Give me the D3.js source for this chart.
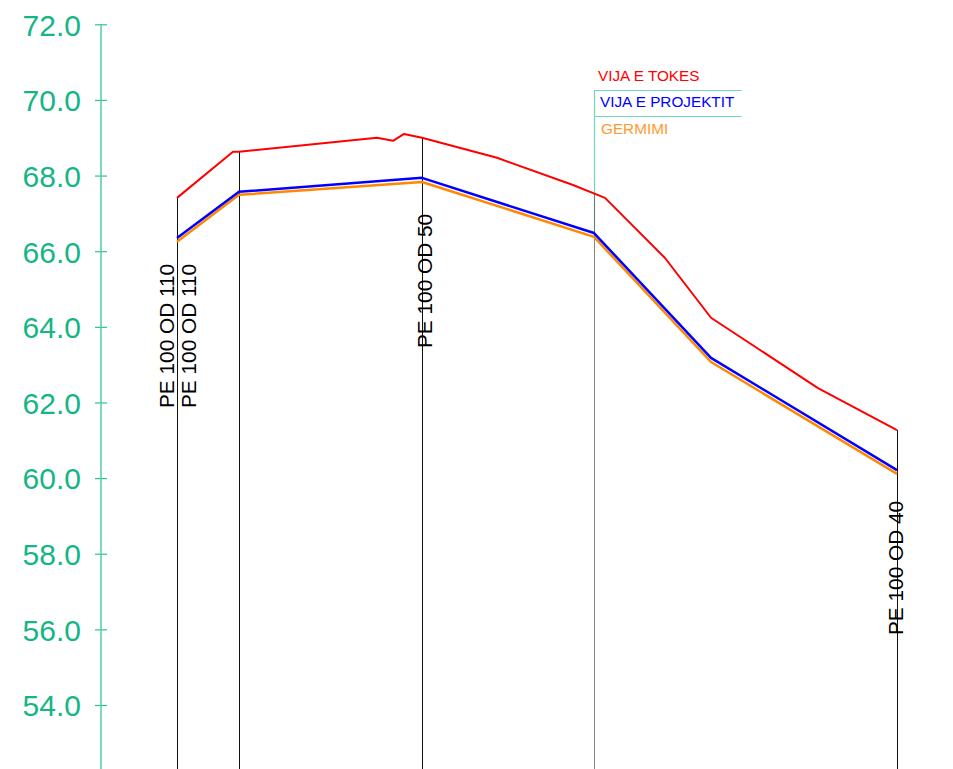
<!DOCTYPE html>
<html>
<head>
<meta charset="utf-8">
<script src="https://cdn.jsdelivr.net/npm/d3@7/dist/d3.min.js"></script>
<style>
  html, body { margin: 0; padding: 0; background: #fff; }
  svg { display: block; }
  text { font-family: "Liberation Sans", Arial, sans-serif; }
</style>
</head>
<body>
<svg id="chart" width="953" height="769"></svg>
<script>
// ---- Data ----
const yTicks = [54, 56, 58, 60, 62, 64, 66, 68, 70, 72];

// Ground line (VIJA E TOKES)
const groundChainage = [0, 14, 15.5, 50, 54, 56.75, 61.25, 80, 99, 107, 122, 133.5, 160.25, 180];
const groundElev     = [67.41, 68.63, 68.63, 69.00, 68.92, 69.10, 69.00, 68.47, 67.75, 67.41, 65.82, 64.24, 62.38, 61.27];

// Project line (VIJA E PROJEKTIT) and trench (GERMIMI)
const profileChainage = [0, 15.5, 61.25, 104.25, 133.5, 180];
const projectElev     = [66.35, 67.57, 67.94, 66.48, 63.18, 60.21];
const trenchElev      = [66.25, 67.49, 67.83, 66.38, 63.07, 60.11];

// Station verticals
const stationChainage = [0, 15.5, 61.25, 104.25, 180];

// Pipe labels
const pipeLabelChainage = [0, 0, 61.25, 180];
const pipeLabelText = ["PE 100 OD 110", "PE 100 OD 110", "PE 100 OD 50", "PE 100 OD 40"];

// Legend
const legendText = ["VIJA E TOKES", "VIJA E PROJEKTIT", "GERMIMI"];
const legendColor = ["#ff0000", "#0000ff", "#ff9a2e"];
const legendChainage = 104.25;

// ---- Scales ----
const W = 953, H = 769;
const x = d3.scaleLinear().domain([0, 180]).range([177, 897]);
const y = d3.scaleLinear().domain([54, 72]).range([705, 24.3]);
const xc = d => Math.round(x(d)) + 0.5;

const svg = d3.select("#chart");

// ---- Y axis ----
const axisColor = "#4fcca6";
const axis = d3.axisLeft(y)
  .tickValues(yTicks)
  .tickFormat(d3.format(".1f"))
  .tickSize(6)
  .tickPadding(14);
const gA = svg.append("g").attr("transform", "translate(101,0)").call(axis);
gA.select(".domain").remove();
gA.append("line")
  .attr("x1", 0).attr("x2", 0)
  .attr("y1", y(72)).attr("y2", H)
  .attr("stroke", axisColor).attr("stroke-width", 1.5);
gA.selectAll(".tick line")
  .attr("x1", -6).attr("x2", 6)
  .attr("stroke", "#2fbf93").attr("stroke-width", 1.2);
gA.selectAll(".tick text")
  .attr("fill", "#16b586")
  .attr("font-size", 30)
  .attr("dy", "0.36em")
  .style("font-family", "'Liberation Sans', Arial, sans-serif");

// ---- Helpers ----
const groundAt = c => {
  for (let i = 0; i < groundChainage.length - 1; i++) {
    if (c >= groundChainage[i] && c <= groundChainage[i + 1]) {
      const t = (c - groundChainage[i]) / (groundChainage[i + 1] - groundChainage[i]);
      return groundElev[i] + t * (groundElev[i + 1] - groundElev[i]);
    }
  }
  return groundElev[groundElev.length - 1];
};
const projectAt = c => projectElev[profileChainage.indexOf(c)];

// ---- Legend framework (teal) ----
const teal = "#6fd8b9";
const lg = svg.append("g");
lg.append("line")
  .attr("x1", xc(legendChainage)).attr("x2", xc(legendChainage))
  .attr("y1", 90).attr("y2", y(projectAt(legendChainage)))
  .attr("stroke", teal).attr("stroke-width", 1.2);
[90.5, 116.5].forEach(yy => {
  lg.append("line")
    .attr("x1", xc(legendChainage)).attr("x2", xc(legendChainage) + 147)
    .attr("y1", yy).attr("y2", yy)
    .attr("stroke", teal).attr("stroke-width", 1.2);
});
const legendY = [81, 107, 134];
const legendDx = [4, 6, 7];
legendText.forEach((t, i) => {
  lg.append("text")
    .attr("x", x(legendChainage) + legendDx[i])
    .attr("y", legendY[i])
    .attr("font-size", 15.3)
    .attr("fill", legendColor[i])
    .text(t);
});

// ---- Station verticals ----
svg.append("g").selectAll("line")
  .data(stationChainage)
  .join("line")
  .attr("x1", d => xc(d)).attr("x2", d => xc(d))
  .attr("y1", d => y(groundAt(d)))
  .attr("y2", H)
  .attr("stroke", d => d === legendChainage ? "#666" : "#111")
  .attr("stroke-opacity", d => d === legendChainage ? 0.8 : 1)
  .attr("stroke-width", 1);

// ---- Lines ----
const line = d3.line().x(d => x(d[0])).y(d => y(d[1]));
svg.append("path")
  .attr("d", line(d3.zip(profileChainage, trenchElev)))
  .attr("fill", "none").attr("stroke", "#ff8800").attr("stroke-width", 2.5)
  .attr("stroke-linejoin", "round");
svg.append("path")
  .attr("d", line(d3.zip(profileChainage, projectElev)))
  .attr("fill", "none").attr("stroke", "#0000ff").attr("stroke-width", 2.5)
  .attr("stroke-linejoin", "round");
svg.append("path")
  .attr("d", line(d3.zip(groundChainage, groundElev)))
  .attr("fill", "none").attr("stroke", "#ff0000").attr("stroke-width", 2)
  .attr("stroke-linejoin", "round");

// ---- Pipe labels (rotated) ----
const labelDx = [-3, 19, 10, 6];
const labelBottom = [408, 408, 348, 635];
pipeLabelText.forEach((t, i) => {
  const px = x(pipeLabelChainage[i]) + labelDx[i];
  svg.append("text")
    .attr("transform", `translate(${px},${labelBottom[i]}) rotate(-90)`)
    .attr("font-size", 20.8)
    .attr("fill", "#000")
    .text(t);
});
</script>
</body>
</html>
